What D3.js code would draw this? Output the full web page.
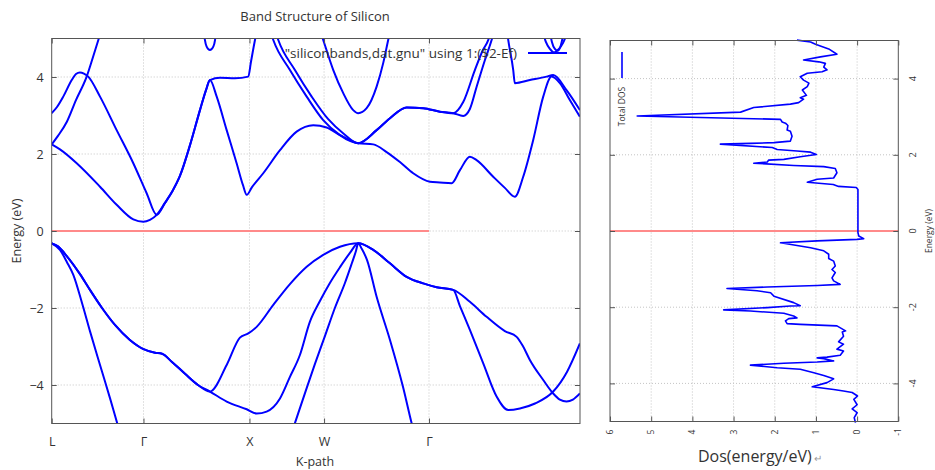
<!DOCTYPE html>
<html>
<head>
<meta charset="utf-8">
<script src="https://cdn.jsdelivr.net/npm/d3@7"></script>
<style>
  body { margin: 0; background: #fff; }
  svg { font-family: "Open Sans", sans-serif; }
</style>
</head>
<body>
<div id="root"></div>
<script>
// k-path ticks (path distance) and labels
const kTicks = [0, 0.866, 1.866, 2.57, 3.56];
const kLabels = ["L", "Γ", "X", "W", "Γ"];
const kMax = 4.985;
const energyTicks = [-4, -2, 0, 2, 4];
const dosTicks = [6, 5, 4, 3, 2, 1, 0, -1];

// bands as [k, E - Ef]
const valenceSteep = [[0,-0.32],[0.078,-0.49],[0.144,-0.81],[0.204,-1.14],[0.286,-1.87],[0.361,-2.60],[0.456,-3.48],[0.550,-4.34],[0.623,-5.04],[0.682,-5.58]];
const valenceW = [[2.267,-5.22],[2.295,-4.99],[2.390,-4.21],[2.484,-3.45],[2.578,-2.73],[2.672,-2.00],[2.767,-1.35],[2.833,-0.83],[2.871,-0.52],[2.892,-0.32],[2.927,-0.47],[2.975,-0.75],[3.066,-1.71],[3.192,-2.83],[3.314,-4.04],[3.396,-4.99],[3.427,-5.32]];
const valenceUpper = [[0,-0.32],[0.059,-0.40],[0.142,-0.65],[0.267,-1.12],[0.361,-1.53],[0.475,-2.00],[0.597,-2.44],[0.738,-2.83],[0.861,-3.06],[0.975,-3.16],[1.041,-3.19],[1.135,-3.40],[1.258,-3.71],[1.380,-4.00],[1.493,-4.17],
  [1.651,-3.48],[1.776,-2.77],[1.855,-2.66],[1.934,-2.49],[2.091,-1.92],[2.248,-1.38],[2.406,-0.93],[2.562,-0.62],[2.720,-0.41],[2.892,-0.32],
  [3.034,-0.49],[3.192,-0.84],[3.349,-1.19],[3.506,-1.36],[3.632,-1.46],[3.789,-1.53],
  [3.946,-1.84],[4.104,-2.23],[4.276,-2.60],[4.387,-2.75],[4.446,-2.99],[4.512,-3.35],[4.638,-3.87],[4.732,-4.22],[4.795,-4.38],[4.858,-4.43],[4.918,-4.38],[4.984,-4.22]];
const valenceLower = [[0,-0.32],[0.059,-0.40],[0.142,-0.65],[0.267,-1.12],[0.361,-1.53],[0.475,-2.00],[0.597,-2.44],[0.738,-2.83],[0.861,-3.06],[0.975,-3.16],[1.041,-3.19],[1.135,-3.40],[1.258,-3.71],[1.380,-4.00],[1.493,-4.17],
  [1.651,-4.43],[1.840,-4.63],[1.934,-4.74],[2.028,-4.69],[2.154,-4.35],[2.248,-3.79],[2.342,-3.22],[2.436,-2.36],[2.531,-1.82],[2.625,-1.35],[2.720,-0.94],[2.814,-0.57],[2.892,-0.32],
  [3.034,-0.49],[3.192,-0.84],[3.349,-1.19],[3.506,-1.36],[3.632,-1.46],[3.789,-1.53],
  [3.852,-1.95],[3.946,-2.57],[4.072,-3.44],[4.198,-4.30],[4.308,-4.65],[4.418,-4.61],[4.560,-4.48],[4.732,-4.17],[4.862,-3.66],[4.984,-2.92]];

const conduction1 = [[0,2.25],[0.078,2.12],[0.236,1.76],[0.456,1.15],[0.613,0.68],[0.770,0.30],[0.864,0.24],[0.927,0.29],[0.991,0.42],[1.069,0.73],[1.144,1.06],[1.210,1.43],[1.305,2.23],[1.399,3.14],[1.456,3.66],[1.493,3.92],
  [1.557,3.49],[1.651,2.62],[1.745,1.76],[1.805,1.19],[1.840,0.94],[1.890,1.14],[1.996,1.50],[2.154,2.10],[2.311,2.58],[2.468,2.75],[2.594,2.69],[2.720,2.49],[2.892,2.28],
  [3.034,2.25],[3.160,2.05],[3.286,1.79],[3.411,1.50],[3.569,1.28],[3.663,1.26],[3.774,1.24],[3.852,1.58],[3.946,1.93],[4.009,1.84],[4.166,1.41],[4.276,1.12],[4.370,0.89],[4.449,1.41],[4.543,2.36],[4.638,3.49],[4.717,4.01],[4.795,3.84],[4.889,3.40],[4.984,2.97]];
const conduction2 = [[0,2.25],[0.059,2.47],[0.142,2.83],[0.229,3.40],[0.330,4.01],[0.390,4.52],[0.440,4.96],[0.465,5.19]];
const conduction2b = [[2.069,5.14],[2.091,4.96],[2.248,4.18],[2.406,3.49],[2.562,2.88],[2.720,2.49],[2.813,2.34],[2.892,2.28],[3.066,2.62],[3.192,2.93],[3.349,3.21],[3.506,3.19],[3.663,3.10],[3.789,3.06],[3.883,3.35],[3.993,4.18],[4.069,4.70],[4.119,4.96],[4.144,5.17]];
const conduction2c = [[4.296,5.19],[4.308,4.96],[4.355,4.18],[4.370,3.84],[4.512,3.92],[4.670,4.01],[4.732,4.05],[4.858,3.66],[4.984,3.14]];
const conduction3 = [[0,3.06],[0.05,3.22],[0.109,3.49],[0.189,3.92],[0.229,4.08],[0.267,4.12],[0.304,4.09],[0.345,4.01],[0.456,3.49],[0.613,2.62],[0.770,1.76],[0.896,0.98],[0.991,0.42],
  [1.069,0.73],[1.144,1.06],[1.210,1.43],[1.305,2.23],[1.399,3.14],[1.456,3.66],[1.493,3.92],[1.588,3.98],[1.729,3.97],[1.855,4.01],[1.880,4.39],[1.918,4.96],[1.937,5.22]];
const conduction3b = [[2.116,5.14],[2.138,4.96],[2.295,4.18],[2.453,3.49],[2.607,2.91],[2.758,2.52],[2.892,2.28],[3.066,2.62],[3.192,2.93],[3.349,3.21],[3.506,3.19],[3.663,3.10],[3.789,3.06],[3.883,2.99],[3.946,3.17],[4.009,3.74],[4.088,4.44],[4.151,4.96],[4.173,5.17]];
const upperW = [[2.540,5.14],[2.562,4.96],[2.657,4.18],[2.751,3.58],[2.845,3.14],[2.892,3.06],[2.972,3.19],[3.066,3.75],[3.128,4.36],[3.175,4.96],[3.192,5.17]];
const upperX = [[1.436,5.17],[1.446,4.96],[1.462,4.79],[1.493,4.70],[1.525,4.79],[1.541,4.96],[1.550,5.17]];
const upperEndA = [[4.635,5.17],[4.663,4.91],[4.701,4.73],[4.739,4.64],[4.786,4.73],[4.824,4.88],[4.861,5.12]];
const upperEndB = [[4.701,5.17],[4.720,4.91],[4.748,4.73],[4.777,4.68],[4.805,4.83],[4.824,5.06]];

const bands = [valenceSteep, valenceW, valenceUpper, valenceLower, conduction1, conduction2, conduction2b,
  conduction2c, conduction3, conduction3b, upperW, upperX, upperEndA, upperEndB];

// total DOS: energy (eV) and states/eV
const dosEnergy = [-5.03,-4.90,-4.77,-4.67,-4.56,-4.42,-4.33,-4.24,-4.20,-4.16,
  -4.09,-3.98,-3.88,-3.79,-3.72,-3.63,-3.59,-3.52,-3.47,-3.44,
  -3.41,-3.35,-3.33,-3.31,-3.26,-3.15,-3.10,-2.97,-2.91,-2.76,
  -2.65,-2.62,-2.49,-2.45,-2.43,-2.36,-2.30,-2.28,-2.23,-2.16,
  -2.10,-2.07,-2.01,-1.97,-1.96,-1.88,-1.71,-1.62,-1.57,-1.51,
  -1.47,-1.43,-1.40,-1.31,-1.23,-1.09,-1.01,-0.92,-0.79,-0.72,
  -0.61,-0.52,-0.44,-0.31,-0.26,-0.22,-0.20,-0.13,-0.04,1.09,
  1.14,1.17,1.22,1.28,1.36,1.39,1.53,1.64,1.69,1.72,
  1.78,1.81,1.86,1.88,1.95,2.01,2.07,2.10,2.14,2.19,
  2.28,2.30,2.32,2.36,2.49,2.62,2.65,2.77,2.83,2.86,
  2.93,3.02,3.12,3.24,3.33,3.37,3.46,3.50,3.56,3.70,
  3.79,3.88,3.96,4.05,4.14,4.18,4.23,4.30,4.40,4.44,
  4.49,4.57,4.64,4.78,4.90,4.96,5.01];
const dosValue = [0.04,0.07,0.00,0.12,0.00,0.08,-0.01,0.12,0.33,0.57,
  1.09,0.73,0.57,0.81,1.05,1.38,1.94,2.59,1.78,0.97,
  0.57,0.81,0.97,0.73,0.41,0.33,0.49,0.33,0.45,0.33,
  0.36,0.28,0.49,1.38,1.70,1.74,1.66,1.46,1.54,1.78,
  2.59,3.24,2.18,1.62,1.38,1.54,2.02,2.10,2.43,3.16,
  2.18,0.97,0.41,0.57,0.61,0.53,0.61,0.53,0.57,0.69,
  0.69,0.81,1.13,1.86,0.97,0.00,-0.16,-0.04,-0.02,-0.02,
  0.02,0.45,0.58,1.21,0.97,0.57,0.49,0.53,0.81,1.54,
  2.51,2.18,2.15,1.78,1.38,0.99,1.13,1.46,1.94,2.06,
  3.32,2.59,2.02,1.62,1.58,1.62,1.70,1.68,1.74,1.82,
  1.86,5.34,2.83,2.51,1.62,1.42,1.30,1.38,1.23,1.33,
  1.21,1.17,1.30,1.38,1.21,0.85,0.73,0.81,0.77,0.93,
  1.30,0.89,0.49,0.69,1.01,1.13,1.46];

const W = 935, H = 470;
const bandBox = { left: 51.7, right: 580, top: 38.5, bottom: 423.5 };
const dosBox = { left: 610, right: 898.3, top: 40.5, bottom: 421.5 };
const BLUE = "#0000ff";
const ZERO = "#ff8a8a";
const INK = "#333";
const FRAME = "#555";
const GRID = "#c4c4c4";

const svg = d3.select("#root").append("svg")
  .attr("width", W).attr("height", H)
  .style("background", "#fff");

function cleanAxis(g) {
  g.select(".domain").remove();
  g.selectAll(".tick line").attr("stroke", FRAME);
  g.attr("font-family", null).attr("font-size", null);
  g.selectAll("text").attr("fill", INK);
}

// ---------- band structure panel ----------
const xk = d3.scaleLinear().domain([0, kMax]).range([bandBox.left, bandBox.right]);
const ye = d3.scaleLinear().domain([-5, 5]).range([bandBox.bottom, bandBox.top]);

svg.append("defs").append("clipPath").attr("id", "bandClip")
  .append("rect")
  .attr("x", bandBox.left).attr("y", bandBox.top)
  .attr("width", bandBox.right - bandBox.left)
  .attr("height", bandBox.bottom - bandBox.top);

const gridB = svg.append("g").attr("stroke", GRID).attr("stroke-dasharray", "1,2");
energyTicks.forEach(e => gridB.append("line")
  .attr("x1", bandBox.left).attr("x2", bandBox.right)
  .attr("y1", ye(e)).attr("y2", ye(e)));
kTicks.slice(1).forEach(k => gridB.append("line")
  .attr("x1", xk(k)).attr("x2", xk(k))
  .attr("y1", bandBox.top).attr("y2", bandBox.bottom));

svg.append("line")
  .attr("x1", xk(0)).attr("x2", xk(kTicks[4]))
  .attr("y1", ye(0)).attr("y2", ye(0))
  .attr("stroke", ZERO).attr("stroke-width", 2);

const bandLine = d3.line()
  .x(d => xk(d[0])).y(d => ye(d[1]))
  .curve(d3.curveMonotoneX);

svg.append("g").attr("clip-path", "url(#bandClip)")
  .selectAll("path").data(bands).enter().append("path")
  .attr("d", bandLine)
  .attr("fill", "none").attr("stroke", BLUE)
  .attr("stroke-width", 2).attr("stroke-linejoin", "round");

svg.append("g").attr("transform", `translate(${bandBox.left},0)`)
  .call(d3.axisLeft(ye).tickValues(energyTicks).tickSize(-5).tickPadding(8))
  .call(cleanAxis).attr("font-size", 12.5);
svg.append("g").attr("transform", `translate(${bandBox.right},0)`)
  .call(d3.axisRight(ye).tickValues(energyTicks).tickSize(-5).tickFormat(""))
  .call(cleanAxis);
svg.append("g").attr("transform", `translate(0,${bandBox.bottom})`)
  .call(d3.axisBottom(xk).tickValues(kTicks).tickSize(-5).tickPadding(14)
    .tickFormat((d, i) => kLabels[i]))
  .call(cleanAxis).attr("font-size", 12.5);
svg.append("g").attr("transform", `translate(0,${bandBox.top})`)
  .call(d3.axisTop(xk).tickValues(kTicks).tickSize(-5).tickFormat(""))
  .call(cleanAxis);

svg.append("rect")
  .attr("x", bandBox.left).attr("y", bandBox.top)
  .attr("width", bandBox.right - bandBox.left)
  .attr("height", bandBox.bottom - bandBox.top)
  .attr("fill", "none").attr("stroke", FRAME);

svg.append("text")
  .text("Band Structure of Silicon")
  .attr("x", 315).attr("y", 21)
  .attr("text-anchor", "middle").attr("font-size", 13).attr("fill", INK);

svg.append("text")
  .text("\"siliconbands,dat.gnu\" using 1:($2-Ef)")
  .attr("x", 517).attr("y", 57.5)
  .attr("text-anchor", "end").attr("font-size", 13.5).attr("fill", INK);
svg.append("line")
  .attr("x1", 528).attr("x2", 567).attr("y1", 53).attr("y2", 53)
  .attr("stroke", BLUE).attr("stroke-width", 2);

svg.append("text")
  .text("Energy (eV)")
  .attr("transform", "translate(17,231) rotate(-90)")
  .attr("dy", "0.35em")
  .attr("text-anchor", "middle").attr("font-size", 12.5).attr("fill", INK);

svg.append("text")
  .text("K-path")
  .attr("x", 315).attr("y", 466)
  .attr("text-anchor", "middle").attr("font-size", 12.5).attr("fill", INK);

// ---------- DOS panel (rotated) ----------
const xd = d3.scaleLinear().domain([6, -1]).range([dosBox.left, dosBox.right]);
const yd = d3.scaleLinear().domain([-5, 5]).range([dosBox.bottom, dosBox.top]);

const gridD = svg.append("g").attr("stroke", GRID).attr("stroke-dasharray", "1,2");
energyTicks.forEach(e => gridD.append("line")
  .attr("x1", dosBox.left).attr("x2", dosBox.right)
  .attr("y1", yd(e)).attr("y2", yd(e)));
dosTicks.slice(1, -1).forEach(v => gridD.append("line")
  .attr("x1", xd(v)).attr("x2", xd(v))
  .attr("y1", dosBox.top).attr("y2", dosBox.bottom));

svg.append("line")
  .attr("x1", dosBox.left).attr("x2", dosBox.right)
  .attr("y1", yd(0)).attr("y2", yd(0))
  .attr("stroke", ZERO).attr("stroke-width", 2);

const dosPoints = dosEnergy.map((e, i) => [dosValue[i], e]);
svg.append("path")
  .datum(dosPoints)
  .attr("d", d3.line().x(d => xd(d[0])).y(d => yd(d[1])))
  .attr("fill", "none").attr("stroke", BLUE)
  .attr("stroke-width", 1.6).attr("stroke-linejoin", "round");

svg.append("g").attr("transform", `translate(0,${dosBox.bottom})`)
  .call(d3.axisBottom(xd).tickValues(dosTicks).tickSize(-5).tickFormat(""))
  .call(cleanAxis);
svg.append("g").attr("transform", `translate(0,${dosBox.top})`)
  .call(d3.axisTop(xd).tickValues(dosTicks).tickSize(-5).tickFormat(""))
  .call(cleanAxis);
svg.append("g").attr("transform", `translate(${dosBox.left},0)`)
  .call(d3.axisLeft(yd).tickValues(energyTicks).tickSize(-5).tickFormat(""))
  .call(cleanAxis);
svg.append("g").attr("transform", `translate(${dosBox.right},0)`)
  .call(d3.axisRight(yd).tickValues(energyTicks).tickSize(-5).tickFormat(""))
  .call(cleanAxis);

svg.append("rect")
  .attr("x", dosBox.left).attr("y", dosBox.top)
  .attr("width", dosBox.right - dosBox.left)
  .attr("height", dosBox.bottom - dosBox.top)
  .attr("fill", "none").attr("stroke", FRAME);

svg.append("g").selectAll("text").data(dosTicks).enter().append("text")
  .text(d => d)
  .attr("transform", d => `translate(${xd(d)},432) rotate(-90)`)
  .attr("dy", "0.35em").attr("text-anchor", "middle")
  .attr("font-size", 8.5).attr("fill", INK);

svg.append("g").selectAll("text").data(energyTicks).enter().append("text")
  .text(d => d)
  .attr("transform", d => `translate(913.3,${yd(d)}) rotate(-90)`)
  .attr("dy", "0.35em").attr("text-anchor", "middle")
  .attr("font-size", 9).attr("fill", INK);

svg.append("text")
  .text("Energy (eV)")
  .attr("transform", "translate(929,231) rotate(-90)")
  .attr("dy", "0.35em").attr("text-anchor", "middle")
  .attr("font-size", 8.5).attr("fill", INK);

svg.append("text")
  .text("Total DOS")
  .attr("transform", "translate(622.5,106.5) rotate(-90)")
  .attr("dy", "0.35em").attr("text-anchor", "middle")
  .attr("font-size", 8.5).attr("fill", INK);
svg.append("line")
  .attr("x1", 622).attr("x2", 622).attr("y1", 52).attr("y2", 78)
  .attr("stroke", BLUE).attr("stroke-width", 1.6);

const dosLabel = svg.append("text")
  .attr("x", 698).attr("y", 462)
  .attr("font-size", 16).attr("fill", INK);
dosLabel.append("tspan").text("Dos(energy/eV)");
dosLabel.append("tspan").text("↵").attr("font-size", 10).attr("fill", "#999").attr("dx", 2);
</script>
</body>
</html>
